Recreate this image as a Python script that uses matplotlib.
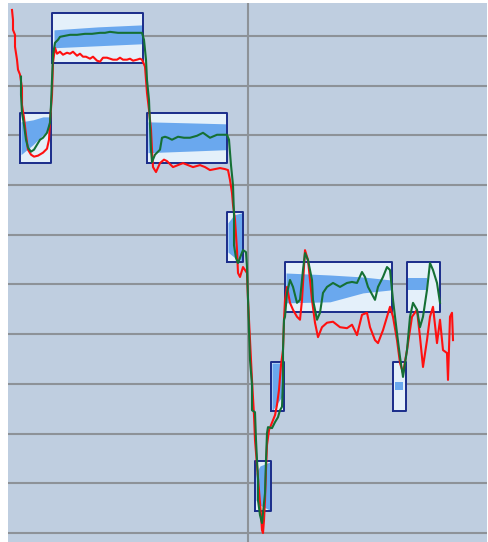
import matplotlib
matplotlib.use("Agg")
import matplotlib.pyplot as plt

# price line (red)
red_x = [4, 5, 5, 7, 7, 9, 10, 12, 14, 14, 16, 18, 20, 23, 26, 30, 35, 39, 41, 42, 44, 45,
         47, 49, 52, 55, 59, 62, 65, 69, 72, 75, 78, 82, 85, 89, 92, 95, 99, 102, 105, 109,
         112, 115, 119, 122, 125, 129, 132, 134,
         137, 138, 139, 141, 143, 144, 145, 148, 152, 156, 159, 162, 165, 170, 175, 180,
         185, 192, 197, 202, 207, 212, 217, 220, 222, 224, 225, 227, 229, 230, 232, 235,
         237, 239, 240, 242, 244, 246, 247, 249, 251, 253, 254, 255, 256, 257, 258, 259,
         261, 263, 265, 267, 269, 271, 273, 275, 276, 277, 279, 282, 285, 289, 292, 294,
         297, 300, 304, 307, 310, 314, 319, 325, 332, 339, 344, 349, 354, 359, 362, 367,
         370, 375, 379, 382, 385, 389, 392, 395, 399, 404, 409, 412, 415, 419, 422, 425,
         429, 432, 435, 439, 440, 442, 444, 445]
red_y = [105.2, 103.2, 101.2, 100.2, 97.8, 95.2, 93.2, 92.2, 89.5, 86.1, 83.5, 80.1, 77.1,
         76.1, 75.7, 75.9, 76.5, 77.3, 79.1, 82.7, 88.1, 94.6,
         97.6, 96.4, 96.8, 96.2, 96.6, 96.4, 96.8, 96.0, 96.4, 95.8, 95.8, 95.4, 95.8, 95.0,
         94.8, 95.6, 95.6, 95.4, 95.2, 95.2, 95.6, 95.2, 95.2, 95.4, 95.0, 95.2, 95.4, 95.2,
         93.8, 91.1, 88.5, 85.1, 81.1, 77.1, 73.6, 72.6, 74.4, 75.1, 74.8, 74.2, 73.6, 74.0,
         74.4, 74.0, 73.6, 74.0, 73.6, 73.0, 73.2, 73.4, 73.2, 73.0, 71.0, 68.4, 66.0, 63.0,
         56.9, 52.3, 51.5, 53.5, 52.9, 52.3, 46.9, 38.8, 30.8, 23.7, 18.7, 13.7, 8.7, 3.6,
         0.6, 0.0, 2.6, 6.6, 12.7, 17.7, 20.7, 21.7, 22.7, 23.7, 25.8, 28.8, 33.8, 36.8,
         42.9, 46.9, 49.5, 46.3, 44.9, 43.5, 42.9, 46.9, 56.9, 54.9, 46.9, 42.3, 39.4, 41.4,
         42.3, 42.5, 41.4, 41.2, 41.9, 39.8, 43.9, 44.3, 41.4, 38.8, 38.2, 40.8, 43.5, 45.5,
         43.5, 38.8, 34.2, 32.2, 36.8, 43.5, 44.9, 39.4, 33.4, 38.8, 43.5, 45.5, 38.2, 42.9,
         36.8, 36.2, 30.8, 43.5, 44.3, 38.8]

# smoothed line (green)
green_x = [13, 13, 14, 16, 18, 20, 23, 26, 29, 32, 35, 39, 42, 43, 44, 45, 47, 50, 52, 57,
           62, 69, 77, 84, 92, 97, 102, 110, 119, 127, 134, 136, 138, 139, 141, 142, 143,
           144, 147, 152, 154, 157, 160, 164, 170, 176, 182, 189, 195, 202, 209, 214, 219,
           221, 223, 225, 226, 226, 228, 230, 233, 235, 238, 239, 240, 241, 242, 244, 244,
           247, 248, 249, 250, 250, 252, 254, 255, 257, 258, 259, 260, 264, 267, 270, 272,
           274, 275, 275, 276, 277, 279, 282, 285, 289, 292, 295, 297, 300, 304, 305, 309,
           312, 315, 319, 325, 332, 339, 344, 349, 354, 357, 360, 367, 370, 375, 379, 382,
           385, 389, 392, 395, 399, 402, 405, 409, 412, 415, 419, 422, 425, 429, 432]
green_y = [91.8, 88.1, 84.5, 82.1, 79.1, 77.5, 76.7, 77.1, 78.1, 79.1, 79.5, 80.5, 82.5,
           86.1, 91.1, 96.2, 98.6, 99.2, 99.8, 100.0, 100.2, 100.2, 100.4, 100.4, 100.6,
           100.6, 100.8, 100.6, 100.6, 100.6, 100.6, 99.2, 95.2, 91.1, 87.1, 82.1, 77.1,
           74.6, 76.1, 77.1, 79.5, 79.7, 79.5, 79.1, 79.7, 79.5, 79.5, 79.9, 80.5, 79.5,
           80.1, 80.1, 80.1, 79.1, 74.0, 70.0, 64.0, 57.9, 55.3, 54.3, 55.9, 56.9, 56.5,
           53.5, 46.9, 40.8, 34.8, 29.8, 24.7, 24.3, 18.7, 14.7, 10.7, 6.6, 3.6, 2.0, 4.0,
           8.0, 14.7, 20.1, 21.3, 21.1, 22.3, 23.3, 24.7, 25.4, 30.8, 36.8, 42.9, 43.5, 48.3,
           50.9, 49.5, 46.3, 46.9, 52.9, 56.3, 54.9, 50.9, 46.9, 42.9, 44.3, 48.3, 49.5,
           50.3, 49.5, 50.3, 50.5, 50.3, 52.5, 51.5, 49.5, 46.9, 49.5, 51.5, 53.5, 52.9,
           46.9, 40.2, 35.4, 31.4, 36.8, 43.5, 46.3, 44.9, 41.4, 43.5, 48.9, 54.3, 52.9,
           50.3, 46.3]

# consolidation boxes: start, end, low (each box is 10 high)
box_start = [12, 44, 139, 219, 247, 263, 277, 385, 399]
box_end = [43, 135, 219, 235, 263, 276, 384, 398, 432]
box_low = [74.5, 94.5, 74.5, 54.5, 4.5, 24.5, 44.5, 24.5, 44.5]
box_size = 10

# value-area band inside each box
band_x = [[13, 25, 35, 42], [46, 90, 134], [140, 180, 218], [220, 226, 234],
          [248, 252, 262], [264, 275], [278, 322, 355, 383], [387, 395], [400, 419]]
band_lo = [[76.1, 78.1, 80.1, 81.5], [97.6, 98.0, 98.4], [76.5, 76.8, 77.1],
           [56.5, 55.5, 54.7], [6.6, 5.6, 4.6], [24.5, 27.8], [46.3, 46.5, 48.3, 48.9],
           [28.8, 28.8], [48.9, 48.9]]
band_hi = [[82.7, 83.1, 83.7, 83.7], [101.2, 101.8, 102.2], [82.7, 82.5, 82.3],
           [62.4, 64.0, 64.4], [12.1, 13.5, 14.3], [34.2, 34.2], [52.3, 51.9, 51.5, 50.9],
           [30.4, 30.4], [51.3, 51.3]]

fig = plt.figure(figsize=(4.89, 5.42), dpi=100)
ax = fig.add_axes([8 / 489, 0, 479 / 489, 539 / 542])
ax.set_facecolor("#bfcee0")

for s, e, lo in zip(box_start, box_end, box_low):
    ax.fill_between([s, e], lo, lo + box_size, color="#e4f0fa", lw=0, zorder=2)
for bx, lo, hi in zip(band_x, band_lo, band_hi):
    ax.fill_between(bx, lo, hi, color="#6aa8ee", lw=0, zorder=3)
for s, e, lo in zip(box_start, box_end, box_low):
    ax.plot([s, e, e, s, s], [lo, lo, lo + box_size, lo + box_size, lo],
            color="#1a2c8a", lw=1.4, zorder=4)

ax.plot(red_x, red_y, color="#ff1010", lw=1.5, zorder=5)
ax.plot(green_x, green_y, color="#157035", lw=1.5, zorder=6)

ax.set_xlim(0, 479)
ax.set_ylim(-1.8, 106.6)
ax.set_yticks(range(0, 101, 10))
ax.set_xticks([240])
ax.grid(True, color="#8d9298", lw=1.5, zorder=1)
ax.set_axisbelow(True)
ax.tick_params(length=0, labelleft=False, labelbottom=False)
for sp in ax.spines.values():
    sp.set_visible(False)

fig.savefig("out.png", dpi=100)
